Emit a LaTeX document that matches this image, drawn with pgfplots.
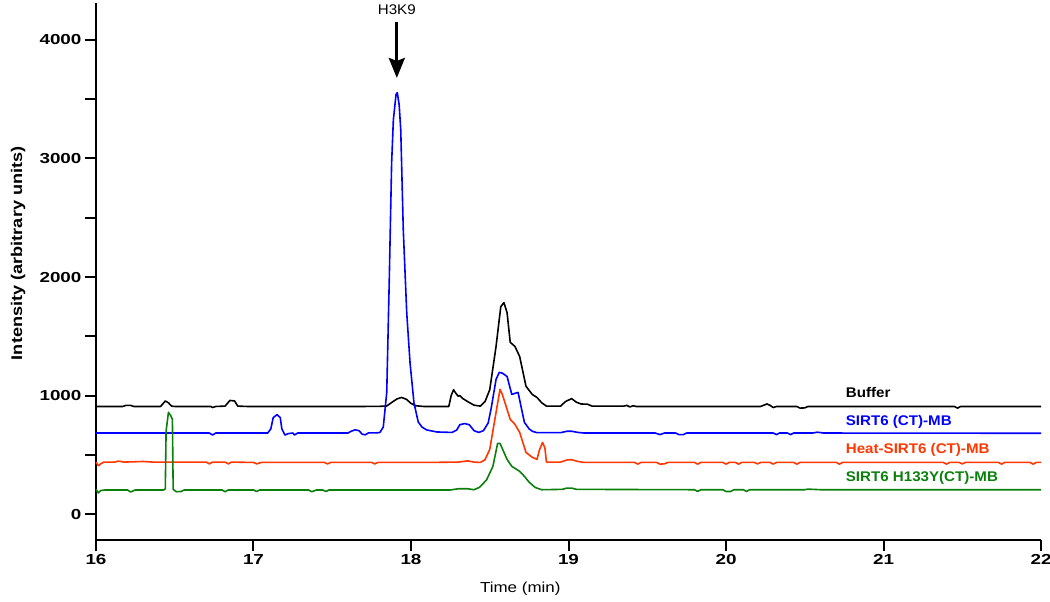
\documentclass[border=0pt]{standalone}
\usepackage{fontspec}
\setmainfont{Liberation Sans}
\newfontfamily\tickf{Liberation Sans}[FakeStretch=1.3]
\newfontfamily\labf{Liberation Sans}[FakeStretch=1.17]
\newfontfamily\legf{Liberation Sans}[FakeStretch=1.08]
\usepackage{pgfplots}
\pgfplotsset{compat=1.18}
\usetikzlibrary{arrows.meta}
\definecolor{cblue}{RGB}{0,0,255}
\definecolor{cred}{RGB}{255,55,0}
\definecolor{cgreen}{RGB}{10,128,10}
\begin{document}
\begin{tikzpicture}
\begin{axis}[name=ax, at={(0,0)}, anchor=south west,
  scale only axis, width=945pt, height=537pt,
  xmin=16, xmax=22, ymin=-217, ymax=4311,
  axis x line=bottom, axis y line=left,
  axis line style={-, line width=2pt},
  xtick={16,...,22}, ytick={0,1000,...,4000},
  minor ytick={500,1500,2500,3500},
  tick style={line width=2pt, black},
  major tick length=11pt, minor tick length=11pt,
  tick align=outside,
  ticklabel style={font=\tickf\bfseries\fontsize{14.5}{15}\selectfont},
  /pgf/number format/assume math mode=true,
  /pgf/number format/1000 sep={},
  xlabel={Time (min)},
  ylabel={Intensity (arbitrary units)},
  xlabel style={at={(axis description cs:0.449,-0.0912)}, anchor=center, font=\labf\fontsize{14.5}{15}\selectfont},
  ylabel style={at={(axis description cs:-0.0825,0.534)}, anchor=center, font=\labf\bfseries\fontsize{15.5}{16}\selectfont},
  clip=false,
  every axis plot/.append style={line width=1.6pt, line join=round}
]
% Buffer
\addplot[black] coordinates {
(16.00,909) (16.17,909) (16.19,918) (16.22,918) (16.24,909) (16.41,909) (16.44,955) (16.46,940) (16.48,912) (16.50,909) (16.73,909) (16.74,900) (16.76,909) (16.82,912) (16.85,960) (16.88,955) (16.90,912) (16.96,909) (17.10,909) (17.70,909) (17.80,910) (17.846,913) (17.88,945) (17.91,972) (17.94,985) (17.97,970) (18.00,935) (18.03,915) (18.08,909) (18.24,909) (18.255,1000) (18.27,1050) (18.285,1020) (18.30,995) (18.31,1000) (18.33,975) (18.36,950) (18.40,920) (18.44,912) (18.47,950) (18.50,1050) (18.54,1415) (18.57,1750) (18.59,1785) (18.61,1700) (18.63,1450) (18.66,1415) (18.69,1330) (18.73,1080) (18.77,1010) (18.80,985) (18.83,940) (18.86,912) (18.95,912) (18.98,950) (19.02,975) (19.05,945) (19.08,930) (19.12,928) (19.15,912) (19.35,912) (19.37,918) (19.39,905) (19.41,915) (19.43,909) (20.22,909) (20.26,930) (20.28,918) (20.30,900) (20.32,909) (20.45,909) (20.47,895) (20.50,897) (20.52,909) (21.45,909) (21.47,895) (21.49,909) (22.00,909)
};
% SIRT6 (CT)-MB
\addplot[cblue] coordinates {
(16.00,685) (16.72,685) (16.74,668) (16.76,685) (17.09,685) (17.11,720) (17.125,815) (17.15,840) (17.17,815) (17.18,720) (17.20,668) (17.22,680) (17.25,685) (17.26,668) (17.28,685) (17.60,685) (17.62,700) (17.645,712) (17.67,705) (17.69,675) (17.71,670) (17.73,686) (17.78,686) (17.803,690) (17.824,736) (17.846,1027) (17.862,1975) (17.877,2962) (17.888,3325) (17.905,3540) (17.913,3555) (17.925,3450) (17.935,3240) (17.951,2397) (17.973,1697) (17.994,1275) (18.019,938) (18.046,778) (18.07,735) (18.10,711) (18.163,694) (18.26,690) (18.29,710) (18.31,755) (18.34,765) (18.37,755) (18.40,705) (18.43,690) (18.46,705) (18.49,770) (18.51,900) (18.54,1137) (18.56,1196) (18.58,1190) (18.61,1162) (18.64,1010) (18.66,1020) (18.68,1027) (18.70,900) (18.72,775) (18.75,720) (18.77,700) (18.80,688) (18.95,688) (18.99,700) (19.02,700) (19.06,690) (19.10,685) (19.55,685) (19.58,672) (19.61,685) (19.68,685) (19.70,672) (19.73,672) (19.75,685) (20.30,685) (20.32,672) (20.34,685) (20.39,685) (20.41,672) (20.43,685) (20.55,685) (20.58,692) (20.62,685) (22.00,683)
};
% Heat-SIRT6 (CT)-MB
\addplot[cred] coordinates {
(16.00,440) (16.015,410) (16.03,425) (16.05,440) (16.12,440) (16.14,448) (16.18,440) (16.30,445) (16.36,440) (16.70,440) (16.72,425) (16.74,440) (16.82,440) (16.84,425) (16.86,440) (17.00,437) (17.02,425) (17.05,437) (17.45,437) (17.47,425) (17.49,437) (17.75,437) (17.77,425) (17.79,437) (18.10,437) (18.30,440) (18.36,450) (18.40,440) (18.44,437) (18.47,460) (18.50,547) (18.54,859) (18.565,1053) (18.58,1010) (18.63,800) (18.66,758) (18.69,690) (18.73,522) (18.77,480) (18.80,463) (18.815,540) (18.835,606) (18.85,560) (18.86,440) (18.95,440) (18.99,458) (19.02,460) (19.06,445) (19.10,437) (19.42,437) (19.44,423) (19.46,437) (19.56,437) (19.58,423) (19.61,425) (19.63,437) (19.80,437) (19.82,423) (19.84,437) (19.98,437) (20.00,423) (20.02,437) (20.06,437) (20.08,423) (20.10,437) (20.18,437) (20.20,425) (20.22,437) (20.28,437) (20.30,423) (20.32,437) (20.43,437) (20.45,423) (20.47,437) (20.70,437) (20.72,423) (20.74,437) (21.38,437) (21.40,423) (21.42,437) (21.48,437) (21.50,425) (21.52,437) (21.73,437) (21.75,423) (21.77,437) (21.93,437) (21.95,423) (21.97,437) (22.00,437)
};
% SIRT6 H133Y(CT)-MB
\addplot[cgreen] coordinates {
(16.00,210) (16.015,180) (16.03,200) (16.06,205) (16.20,205) (16.22,188) (16.25,205) (16.43,205) (16.44,215) (16.445,700) (16.46,860) (16.475,830) (16.485,800) (16.49,210) (16.51,190) (16.54,192) (16.56,205) (16.80,205) (16.82,190) (16.84,205) (17.00,205) (17.02,192) (17.04,205) (17.35,205) (17.37,190) (17.40,205) (17.44,205) (17.46,192) (17.48,205) (18.25,205) (18.30,215) (18.36,215) (18.40,207) (18.435,227) (18.48,290) (18.52,404) (18.55,598) (18.565,598) (18.61,463) (18.64,404) (18.69,362) (18.72,320) (18.75,270) (18.79,225) (18.83,207) (18.96,210) (18.99,221) (19.02,221) (19.05,210) (19.80,207) (19.82,192) (19.84,207) (19.98,207) (20.00,192) (20.03,192) (20.05,207) (20.11,207) (20.13,192) (20.15,207) (20.50,207) (20.52,212) (20.60,207) (22.00,207)
};
\node[anchor=west, inner sep=0pt, text=black, font=\legf\bfseries\fontsize{14}{14}\selectfont] at (axis cs:20.76,1023) {Buffer};
\node[anchor=west, inner sep=0pt, text=cblue, font=\legf\bfseries\fontsize{14}{14}\selectfont] at (axis cs:20.76,778) {SIRT6 (CT)-MB};
\node[anchor=west, inner sep=0pt, text=cred, font=\legf\bfseries\fontsize{14}{14}\selectfont] at (axis cs:20.76,542) {Heat-SIRT6 (CT)-MB};
\node[anchor=west, inner sep=0pt, text=cgreen, font=\legf\bfseries\fontsize{14}{14}\selectfont] at (axis cs:20.76,306) {SIRT6 H133Y(CT)-MB};
\node[inner sep=0pt, font=\legf\fontsize{14}{14}\selectfont] at (axis cs:17.91,4252) {H3K9};
\draw[line width=3pt, -{Stealth[length=20pt, width=16pt, inset=3pt]}] (axis cs:17.91,4151) -- (axis cs:17.91,3679);
\end{axis}
\pgfresetboundingbox
\path ([shift={(-96pt,-61pt)}]ax.south west) rectangle ([shift={(9pt,3pt)}]ax.north east);
\end{tikzpicture}
\end{document}
